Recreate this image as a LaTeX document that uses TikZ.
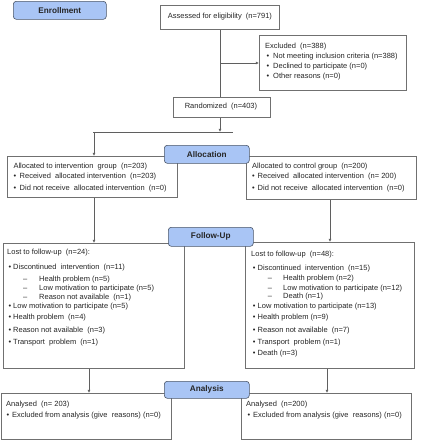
\documentclass[tikz,border=0pt]{standalone}
\usepackage{fontspec}
\setmainfont{Liberation Sans}
\usetikzlibrary{arrows.meta}
\definecolor{hdrfill}{HTML}{A9C5F5}
\definecolor{hdrdraw}{HTML}{4A5568}
\definecolor{boxdraw}{HTML}{707070}
\definecolor{linecol}{HTML}{5F5F5F}
\definecolor{txtcol}{HTML}{262626}
\newcommand{\bitem}[5]{\node[txt,anchor=base] (#1b) at (#2,#4) {•};\node[txt] (#1) at (#3,#4) {#5};}
\newcommand{\ditem}[5]{\node[txt,anchor=base] (#1d) at (#2,#4) {–};\node[txt] (#1) at (#3,#4) {#5};}
\begin{document}
\begin{tikzpicture}[x=1pt,y=-1pt,
  hdr/.style={draw=hdrdraw, fill=hdrfill, rounded corners=3pt, line width=0.6pt,
    font=\fontsize{8.2}{9}\selectfont\bfseries, text=txtcol, inner sep=0pt, anchor=north west},
  flowbox/.style={draw=boxdraw, fill=white, line width=0.6pt, inner sep=0pt, anchor=north west},
  txt/.style={font=\fontsize{7.5}{8}\selectfont, text=txtcol, inner sep=0pt, anchor=base west},
  ctxt/.style={font=\fontsize{7.5}{8}\selectfont, text=txtcol, inner sep=0pt},
  conn/.style={draw=linecol, line width=0.6pt},
  arr/.style={conn, -{Latex[length=3.2pt,width=3pt]}},
]
\useasboundingbox (0,0) rectangle (421,440);

% boxes
\node[flowbox, minimum width=119pt, minimum height=24pt] (assess) at (160,5) {};
\node[ctxt] (assesst) at (220,17) {Assessed for eligibility~ (n=791)};
\node[flowbox, minimum width=147pt, minimum height=55pt] (excl) at (259,35) {};
\node[flowbox, minimum width=97pt, minimum height=20pt] (rand) at (173,97) {};
\node[ctxt] (randt) at (221,107) {Randomized~ (n=403)};

\node[flowbox, minimum width=170pt, minimum height=41pt] (allocL) at (7,156) {};
\node[flowbox, minimum width=170pt, minimum height=43pt] (allocR) at (246,156) {};
\node[flowbox, minimum width=181pt, minimum height=125pt] (fuL) at (3,243) {};
\node[flowbox, minimum width=169pt, minimum height=126pt] (fuR) at (245,242) {};
\node[flowbox, minimum width=170pt, minimum height=46pt] (anL) at (1,393) {};
\node[flowbox, minimum width=170pt, minimum height=46pt] (anR) at (241,393) {};

% excluded text
\node[txt] (exclt) at (265,48) {Excluded~ (n=388)};
\bitem{ex1}{268}{273}{58.5}{Not meeting inclusion criteria (n=388)}
\bitem{ex2}{268}{273}{68.5}{Declined to participate (n=0)}
\bitem{ex3}{268}{273}{78.5}{Other reasons (n=0)}

% allocation text
\node[txt] (allocLt) at (13.3,168) {Allocated to intervention~ group~ (n=203)};
\bitem{al1}{15}{19.5}{178}{Received~ allocated intervention~ (n=203)}
\bitem{al2}{15}{19.5}{190}{Did not receive~ allocated intervention~ (n=0)}
\node[txt] (allocRt) at (252,168.5) {Allocated to control group~ (n=200)};
\bitem{ar1}{253.5}{257.5}{178.5}{Received~ allocated intervention~ (n= 200)}
\bitem{ar2}{253.5}{257.5}{190.5}{Did not receive~ allocated intervention~ (n=0)}

% follow-up left
\node[txt] (fuLt) at (7,254.5) {Lost to follow-up~ (n=24):};
\bitem{fl1}{10}{13}{269.5}{Discontinued~ intervention~ (n=11)}
\ditem{fl1a}{25.3}{39}{281}{Health problem (n=5)}
\ditem{fl1b}{25.3}{39}{290}{Low motivation to participate (n=5)}
\ditem{fl1c}{25.3}{39}{299}{Reason not available~ (n=1)}
\bitem{fl2}{10}{13}{308.5}{Low motivation to participate (n=5)}
\bitem{fl3}{10}{13}{319.5}{Health problem~ (n=4)}
\bitem{fl4}{10}{13}{332.5}{Reason not available~ (n=3)}
\bitem{fl5}{10}{13}{344.5}{Transport~ problem~ (n=1)}

% follow-up right
\node[txt] (fuRt) at (251,256) {Lost to follow-up~ (n=48):};
\bitem{fr1}{254.3}{257.5}{270}{Discontinued~ intervention~ (n=15)}
\ditem{fr1a}{270}{283}{280.5}{Health problem (n=2)}
\ditem{fr1b}{270}{283}{290}{Low motivation to participate (n=12)}
\ditem{fr1c}{270}{283}{298.5}{Death (n=1)}
\bitem{fr2}{254.3}{257.5}{308}{Low motivation to participate (n=13)}
\bitem{fr3}{254.3}{257.5}{319.5}{Health problem (n=9)}
\bitem{fr4}{254.3}{257.5}{332}{Reason not available~ (n=7)}
\bitem{fr5}{254.3}{257.5}{344}{Transport~ problem (n=1)}
\bitem{fr6}{254.3}{257.5}{355.5}{Death (n=3)}

% analysis text
\node[txt] (anLt) at (6,406.5) {Analysed~ (n= 203)};
\bitem{an1}{8}{12}{417.5}{Excluded from analysis (give~ reasons) (n=0)}
\node[txt] (anRt) at (246,406.5) {Analysed~ (n=200)};
\bitem{an2}{249}{253}{417.5}{Excluded from analysis (give~ reasons) (n=0)}

% connectors
\coordinate (exj) at (220,63);
\coordinate (rj) at (220,132);
\coordinate (splitL) at (93,132);
\coordinate (splitR) at (233,132);
\coordinate (aLtop) at (94,132);
\draw[conn] (assess.south -| exj) -- (rand.north -| exj);
\draw[arr] (exj) -- (excl.west |- exj);
\draw[arr] (rand.south -| rj) -- (rj);
\draw[conn] (splitL) -- (splitR);
\draw[arr] (aLtop) -- (allocL.north -| aLtop);
\coordinate (fLx) at (94,0);
\coordinate (fRx) at (330,0);
\draw[arr] (allocL.south -| fLx) -- (fuL.north -| fLx);
\draw[arr] (allocR.south -| fRx) -- (fuR.north -| fRx);
\coordinate (aLx) at (89,0);
\coordinate (aRx) at (327,0);
\draw[arr] (fuL.south -| aLx) -- (anL.north -| aLx);
\draw[arr] (fuR.south -| aRx) -- (anR.north -| aRx);

% headers
\node[hdr, minimum width=93pt, minimum height=18pt] (enroll) at (13,1) {Enrollment};
\node[hdr, minimum width=85pt, minimum height=18pt] (allochdr) at (164,145) {Allocation};
\node[hdr, minimum width=85pt, minimum height=19pt] (fuhdr) at (168,227) {Follow-Up};
\node[hdr, minimum width=85pt, minimum height=17pt] (anhdr) at (164,381) {Analysis};
\end{tikzpicture}
\end{document}
